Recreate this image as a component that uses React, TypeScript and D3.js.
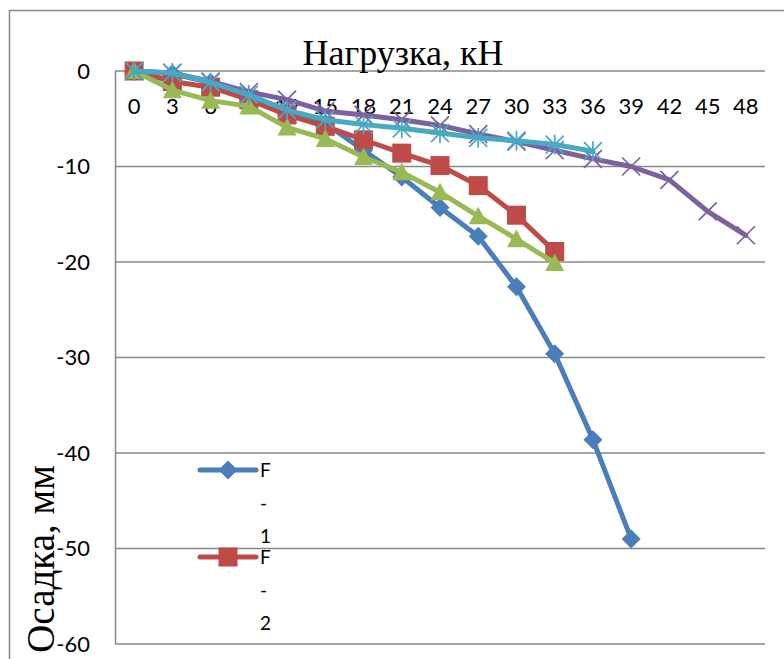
import React from "react";
import * as d3 from "d3";

// load steps, kN
const loads = [0, 3, 6, 9, 12, 15, 18, 21, 24, 27, 30, 33, 36, 39, 42, 45, 48];
const yTicks = [0, -10, -20, -30, -40, -50, -60];

// settlement, mm
const f1 = [0, -0.3, -1.2, -2.7, -4.2, -5.5, -8.3, -11.1, -14.3, -17.3, -22.6, -29.6, -38.6, -49.0];
const f2 = [0, -1.1, -1.7, -3.0, -4.6, -5.8, -7.2, -8.6, -9.9, -12.0, -15.1, -18.9];
const f3 = [0, -2.0, -3.1, -3.7, -5.9, -7.1, -9.0, -10.6, -12.7, -15.2, -17.6, -20.1];
const f4 = [0, -0.2, -1.1, -2.2, -3.0, -4.2, -4.6, -5.1, -5.7, -6.6, -7.4, -8.3, -9.2, -10.0, -11.4, -14.7, -17.2];
const f5 = [0, -0.2, -1.2, -2.5, -4.1, -5.1, -5.6, -6.0, -6.5, -7.0, -7.3, -7.7, -8.4];

const seriesNames = ["F-1", "F-2", "F-3", "F-4", "F-5"];
const seriesValues = [f1, f2, f3, f4, f5];
const colors = ["#4A7EBB", "#BE4B48", "#98B954", "#7D60A0", "#46AAC5"];
const markers = ["diamond", "square", "triangle", "x", "star"];

const W = 784;
const H = 659;
const grid = "#888888";
const sans = "Lato, 'Liberation Sans', sans-serif";
const serif = "'Liberation Serif', 'Times New Roman', serif";

function Marker({ type, x, y, color }: { type: string; x: number; y: number; color: string }) {
  if (type === "diamond") {
    const s = 9.5;
    return <path d={`M${x},${y - s}L${x + s},${y}L${x},${y + s}L${x - s},${y}Z`} fill={color} />;
  }
  if (type === "square") {
    const s = 9.5;
    return <rect x={x - s} y={y - s} width={s * 2} height={s * 2} fill={color} />;
  }
  if (type === "triangle") {
    const s = 9.5;
    return <path d={`M${x},${y - s}L${x + s},${y + s * 0.85}L${x - s},${y + s * 0.85}Z`} fill={color} />;
  }
  if (type === "x") {
    const s = 9;
    return (
      <path d={`M${x - s},${y - s}L${x + s},${y + s}M${x - s},${y + s}L${x + s},${y - s}`}
        stroke={color} strokeWidth={1.7} fill="none" />
    );
  }
  const s = 9;
  return (
    <path
      d={`M${x - s},${y - s}L${x + s},${y + s}M${x - s},${y + s}L${x + s},${y - s}M${x},${y - s * 1.1}L${x},${y + s * 1.1}`}
      stroke={color} strokeWidth={1.7} fill="none" />
  );
}

export default function App() {
  const x = d3.scaleBand<number>().domain(loads).range([115, 765]).padding(0);
  const y = d3.scaleLinear().domain([-60, 0]).range([644, 71]);
  const cx = (i: number) => (x(loads[i]) as number) + x.bandwidth() / 2;

  const line = d3.line<number>()
    .x((_, i) => cx(i))
    .y((d) => y(d));

  const legendX = 200;
  const legendY = 470;
  const legendStep = 87;
  const lineGap = 33;
  // the legend box is taller than the chart, so only the entries that fit are seen
  const shown = seriesNames.filter((_, si) => legendY + si * legendStep + 2 * lineGap < H - 20);

  return (
    <svg width={W} height={H} style={{ position: "absolute", left: 0, top: 0, background: "#fff" }}>
      {/* chart area border */}
      <path d={`M9.5,${H}V10.5H${W}`} fill="none" stroke={grid} strokeWidth={1.5} />

      {/* gridlines */}
      {yTicks.map((t) => (
        <line key={t} x1={115} x2={765} y1={y(t)} y2={y(t)} stroke={grid} strokeWidth={1.5} />
      ))}
      <line x1={115.5} x2={115.5} y1={y(0)} y2={y(-60)} stroke={grid} strokeWidth={1.5} />

      {/* y tick labels */}
      {yTicks.map((t) => (
        <text key={t} x={90} y={y(t)} dy="0.35em" textAnchor="end" fontFamily={sans} fontSize={22} fill="#000">
          {t}
        </text>
      ))}

      {/* x tick labels */}
      {loads.map((l, i) => (
        <text key={l} x={cx(i)} y={106} dy="0.35em" textAnchor="middle" fontFamily={sans} fontSize={22} fill="#000">
          {l}
        </text>
      ))}

      {/* titles */}
      <text x={403} y={65} textAnchor="middle" fontFamily={serif} fontSize={36} fill="#000">
        Нагрузка, кН
      </text>
      <text transform="translate(54,559) rotate(-90)" textAnchor="middle" fontFamily={serif} fontSize={39} fill="#000">
        Осадка, мм
      </text>

      {/* series */}
      {seriesValues.map((vals, si) => (
        <g key={seriesNames[si]}>
          <path d={line(vals) || ""} fill="none" stroke={colors[si]} strokeWidth={5}
            strokeLinejoin="round" strokeLinecap="round" />
          {vals.map((v, i) => (
            <Marker key={i} type={markers[si]} x={cx(i)} y={y(v)} color={colors[si]} />
          ))}
        </g>
      ))}

      {/* legend, text wrapped into a narrow column */}
      {shown.map((name, si) => {
        const ly = legendY + si * legendStep;
        const parts = [name.split("-")[0], "-", name.split("-")[1]];
        return (
          <g key={name}>
            <line x1={legendX} x2={legendX + 56} y1={ly} y2={ly} stroke={colors[si]} strokeWidth={5} strokeLinecap="round" />
            <Marker type={markers[si]} x={legendX + 28} y={ly} color={colors[si]} />
            {parts.map((p, pi) => (
              <text key={pi} x={legendX + 60} y={ly + pi * lineGap} dy="0.35em" fontFamily={sans} fontSize={19} fill="#000">
                {p}
              </text>
            ))}
          </g>
        );
      })}
    </svg>
  );
}
